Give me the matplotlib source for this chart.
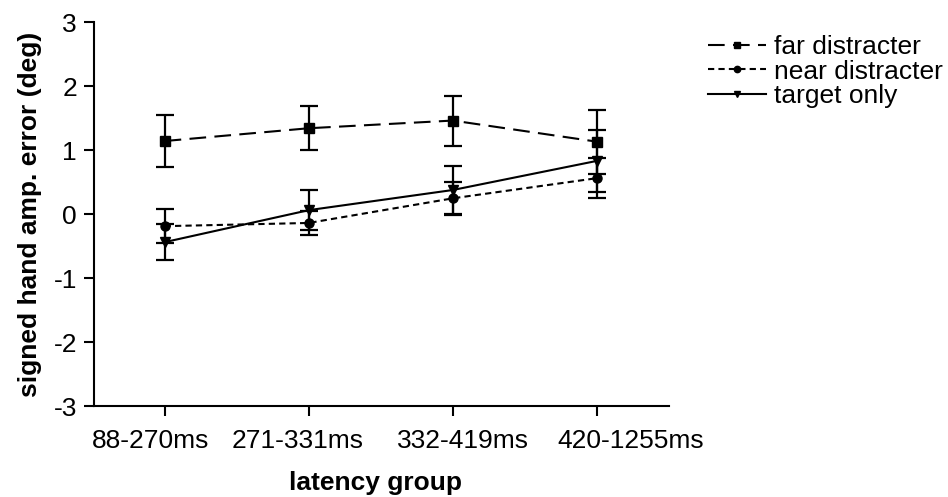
import numpy as np
import matplotlib
matplotlib.use('Agg')
import matplotlib.pyplot as plt
from matplotlib.transforms import ScaledTranslation

plt.rcParams['font.family'] = ['Liberation Sans', 'DejaVu Sans']
plt.rcParams['axes.unicode_minus'] = False

# latency groups
groups = ['88-270ms', '271-331ms', '332-419ms', '420-1255ms']

# mean signed hand amplitude error (deg) and error bars
far_mean = [1.14, 1.34, 1.46, 1.13]
far_err = [0.41, 0.34, 0.39, 0.50]
near_mean = [-0.19, -0.14, 0.245, 0.56]
near_err = [0.27, 0.19, 0.26, 0.31]
target_mean = [-0.44, 0.06, 0.375, 0.83]
target_err = [0.28, 0.31, 0.37, 0.48]

fs = 19
x = np.arange(len(groups))

fig = plt.figure(figsize=(9.48, 4.97), dpi=100)
ax = fig.add_axes([94 / 948, 1 - 406 / 497, (669 - 94) / 948, (406 - 22) / 497])

common = dict(color='black', linewidth=1.5, elinewidth=1.6, capsize=6.5, capthick=1.6)
h_far = ax.errorbar(x, far_mean, yerr=far_err, marker='s', markersize=7,
                    dashes=(8, 4), label='far distracter', **common)
h_near = ax.errorbar(x, near_mean, yerr=near_err, marker='o', markersize=6.5,
                     dashes=(3, 2), label='near distracter', **common)
h_target = ax.errorbar(x, target_mean, yerr=target_err, marker='v', markersize=6.5,
                       linestyle='-', label='target only', **common)

ax.set_xlim(-0.49, 3.5)
ax.set_ylim(-3, 3)
ax.set_yticks(range(-3, 4))
ax.set_xticks(x)
ax.set_xticklabels(groups)
ax.tick_params(axis='both', labelsize=fs, width=1.5, length=7.2, direction='out')
ax.tick_params(axis='x', pad=9)
ax.tick_params(axis='y', pad=5)
for s in ['top', 'right']:
    ax.spines[s].set_visible(False)
for s in ['left', 'bottom']:
    ax.spines[s].set_linewidth(1.5)

# the original spreads the category labels a little wider than the ticks
label_shift_px = [-14, -11, 10, 34]
for lab, dx in zip(ax.get_xticklabels(), label_shift_px):
    lab.set_transform(lab.get_transform() + ScaledTranslation(dx / 100, 0, fig.dpi_scale_trans))

ax.set_xlabel('latency group', fontsize=fs, fontweight='bold')
ax.xaxis.set_label_coords(0.49, -0.168)
ax.set_ylabel('signed hand amp. error (deg)', fontsize=fs, fontweight='bold', labelpad=8)

# legend shows only the lines + markers, no error bars
leg = fig.legend(handles=[h_far[0], h_near[0], h_target[0]],
                 labels=['far distracter', 'near distracter', 'target only'],
                 loc='upper left', bbox_to_anchor=(708 / 948, 1 - 35 / 497), frameon=False,
                 fontsize=fs, borderpad=0, borderaxespad=0, handlelength=2.2,
                 handletextpad=0.3, labelspacing=0.02, numpoints=1, markerscale=0.7)

fig.savefig('out.png', dpi=100)
